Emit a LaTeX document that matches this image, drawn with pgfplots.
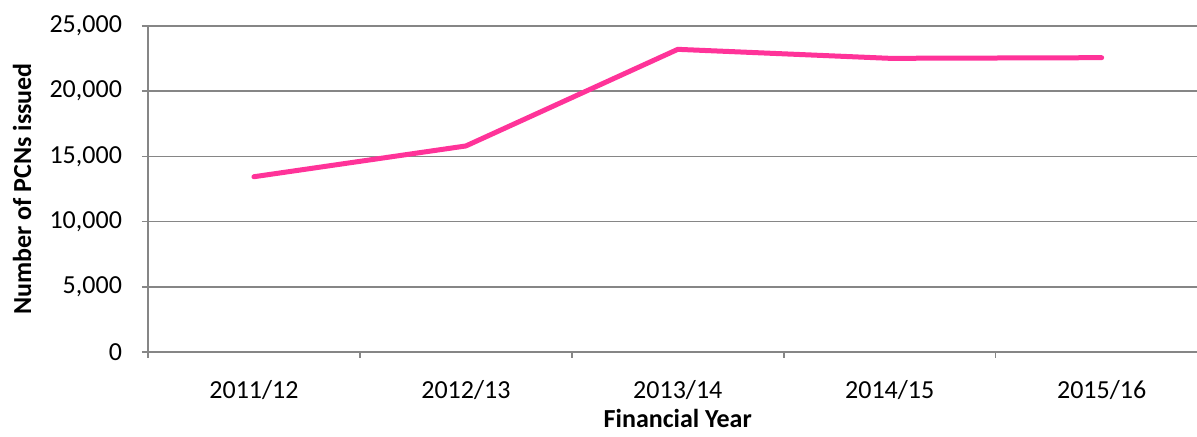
\documentclass[border=0pt]{standalone}
\usepackage{fontspec}
\setmainfont{Carlito}
\usepackage{pgfplots}
\pgfplotsset{compat=1.18}
\definecolor{pcn}{HTML}{FF3399}
\definecolor{gridgray}{HTML}{868686}
\begin{document}
\fontsize{13}{16}\selectfont
\begin{tikzpicture}
\begin{axis}[
  scale only axis, width=524.5pt, height=163pt,
  xmin=-0.5, xmax=4.45, ymin=0, ymax=25000,
  axis x line*=bottom, axis y line*=left,
  axis line style={gridgray, line width=0.75pt},
  xtick={0,...,4},
  xticklabels={2011/12,2012/13,2013/14,2014/15,2015/16},
  major x tick style={draw=none},
  minor xtick={-0.5,0.5,1.5,2.5,3.5},
  ytick={0,5000,...,25000},
  ymajorgrids, major grid style={gridgray, line width=0.75pt},
  tick align=outside,
  major tick length=3pt, minor tick length=3pt,
  tick style={gridgray, line width=0.75pt},
  minor tick style={gridgray, line width=0.75pt},
  scaled y ticks=false,
  /pgf/number format/1000 sep={,},
  /pgf/number format/assume math mode=true,
  yticklabel style={font=\fontsize{13}{16}\selectfont, xshift=-5.5pt},
  xticklabel style={font=\fontsize{13}{16}\selectfont, yshift=-6.5pt},
  ylabel={\textbf{Number of PCNs issued}},
  xlabel={\textbf{Financial Year}},
  ylabel style={font=\fontsize{13}{16}\selectfont, at={(rel axis cs:0,0.5)}, yshift=63pt, anchor=center},
  xlabel style={font=\fontsize{13}{16}\selectfont, at={(rel axis cs:0.505,0)}, yshift=-33pt, anchor=center},
  clip=false,
]
\addplot[pcn, line width=2.5pt, line join=round, line cap=round]
  coordinates {(0,13440)(1,15800)(2,23210)(3,22520)(4,22570)};
\coordinate (ll) at (rel axis cs:0,0);
\coordinate (ur) at (rel axis cs:1,1);
\end{axis}
\pgfresetboundingbox
\path[use as bounding box] ([xshift=-74pt,yshift=-42.5pt]ll) rectangle ([yshift=13pt]ur);
\end{tikzpicture}
\end{document}
